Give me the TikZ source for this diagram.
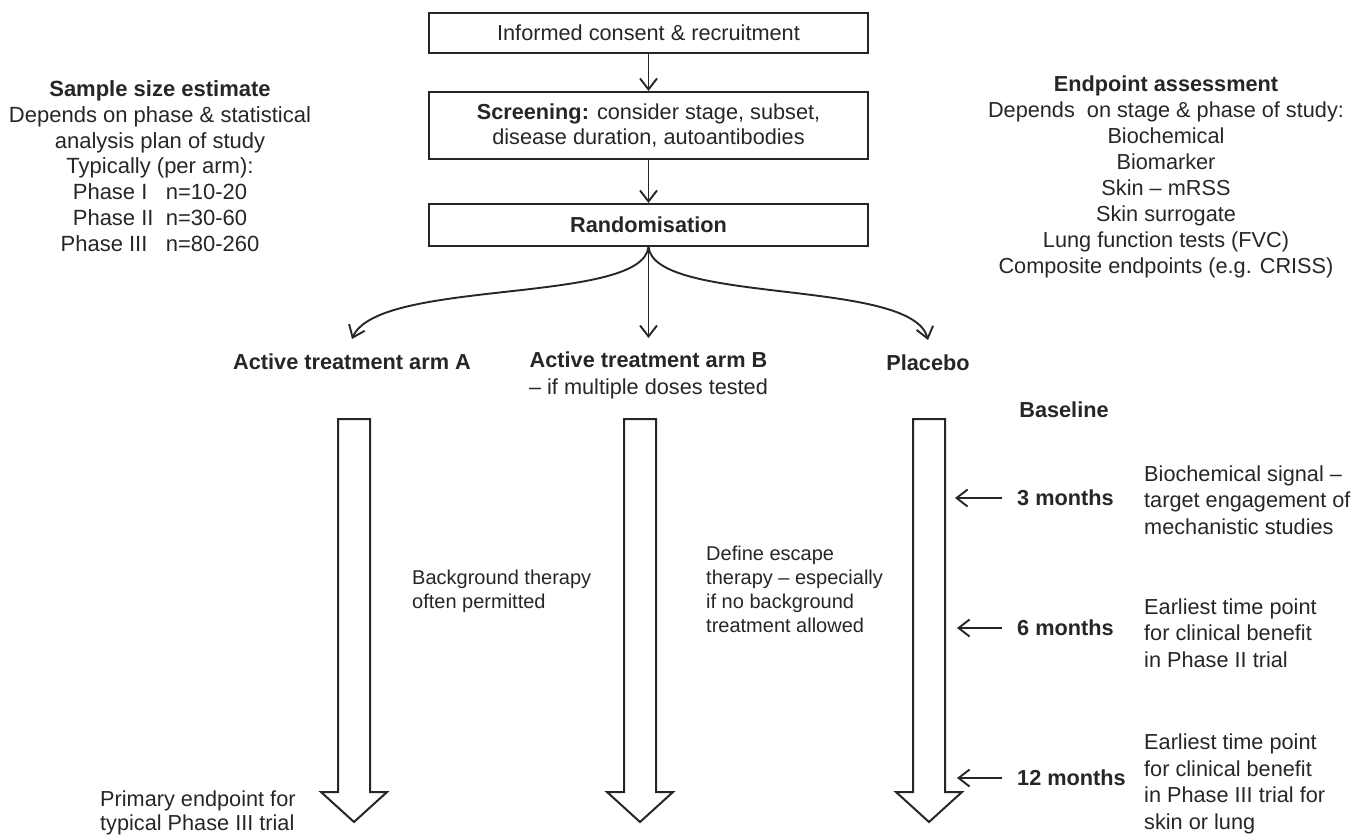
\documentclass[tikz,border=0pt]{standalone}
\usepackage{fontspec}
\setmainfont{Liberation Sans}
\usetikzlibrary{arrows.meta}
\definecolor{ink}{RGB}{38,38,38}
\tikzset{
  box/.style={draw=ink, line width=2pt, minimum width=439pt, text=ink, align=center,
    font=\fontsize{21.7}{25.5}\selectfont},
  lbl/.style={text=ink, inner sep=0pt, font=\fontsize{21.7}{26.5}\selectfont},
  note/.style={text=ink, inner sep=0pt, align=left, font=\fontsize{20}{24}\selectfont},
  link/.style={draw=ink, line width=1.9pt, -{Straight Barb[length=11pt,width=17pt]}},
  hollow/.style={draw=ink, line width=2pt, fill=white, line join=miter},
}
\begin{document}
\begin{tikzpicture}[x=1pt,y=-1pt]
\useasboundingbox (0,0) rectangle (1355,835);
% flow boxes
\node[box, minimum height=40pt] (consent) at (648.5,33) {Informed consent \& recruitment};
\node[box, minimum height=67pt] (screen) at (648.5,125.5) {\textbf{Screening:} consider stage, subset,\\disease duration, autoantibodies};
\node[box, minimum height=42pt] (rand) at (648.5,225) {\textbf{Randomisation}};
\draw[link] (consent) -- (screen);
\draw[link] (screen) -- (rand);
% side notes
\node[lbl, align=center, font=\fontsize{22}{25.8}\selectfont] (sample) at (160,166) {\textbf{Sample size estimate}\\Depends on phase \& statistical\\analysis plan of study\\Typically (per arm):\\Phase I\ \ \ n=10-20\\Phase II\ \ n=30-60\\Phase III\ \ \ n=80-260};
\node[lbl, align=center, font=\fontsize{21.7}{26.1}\selectfont] (endpoint) at (1166,177) {\textbf{Endpoint assessment}\\Depends\ \ on stage \& phase of study:\\Biochemical\\Biomarker\\Skin – mRSS\\Skin surrogate\\Lung function tests (FVC)\\Composite endpoints (e.g. CRISS)};
% arms
\node[lbl, anchor=north, align=center] (armA) at (352,354) {\textbf{Active treatment arm A}};
\node[lbl, anchor=north, align=center] (armB) at (648.5,352) {\textbf{Active treatment arm B}\\– if multiple doses tested};
\node[lbl, anchor=north, align=center] (placebo) at (928,355) {\textbf{Placebo}};
\draw[link] (rand.south) .. controls (642,305) and (378,278) .. ([yshift=15pt]armA.north);
\draw[link] (rand.south) -- ([yshift=14pt]armB.north);
\draw[link] (rand.south) .. controls (655,305) and (912,278) .. ([yshift=15pt]placebo.north);
% time arrows
\foreach \cx in {354,640,929}
  \draw[hollow] (\cx-16,419) -- (\cx+16,419) -- (\cx+16,792) -- (\cx+33,792) -- (\cx,822) -- (\cx-33,792) -- (\cx-16,792) -- cycle;
\node[note] (bgtext) at (412,591) [anchor=west] {Background therapy\\often permitted};
\node[note] (escape) at (706,589) [anchor=west] {Define escape\\therapy – especially\\if no background\\treatment allowed};
\node[lbl, anchor=west, align=left, font=\fontsize{21.7}{24}\selectfont] (primary) at (100,813) {Primary endpoint for\\typical Phase III trial};
% time points
\node[lbl] (base) at (1064,410) {\textbf{Baseline}};
\coordinate (c3) at (955,498);
\coordinate (c6) at (957,628);
\coordinate (c12) at (957,778);
\node[lbl, anchor=west] (m3) at (1017,498) {\textbf{3 months}};
\node[lbl, anchor=west] (m6) at (1017,628) {\textbf{6 months}};
\node[lbl, anchor=west] (m12) at (1017,778) {\textbf{12 months}};
\draw[link, shorten <=15pt] (m3.west) -- (c3);
\draw[link, shorten <=15pt] (m6.west) -- (c6);
\draw[link, shorten <=15pt] (m12.west) -- (c12);
\node[lbl, anchor=west, align=left] (n3) at (1144,500) {Biochemical signal –\\target engagement of\\mechanistic studies};
\node[lbl, anchor=west, align=left] (n6) at (1144,633) {Earliest time point\\for clinical benefit\\in Phase II trial};
\node[lbl, anchor=west, align=left] (n12) at (1144,784) {Earliest time point\\for clinical benefit\\in Phase III trial for\\skin or lung};
\end{tikzpicture}
\end{document}
